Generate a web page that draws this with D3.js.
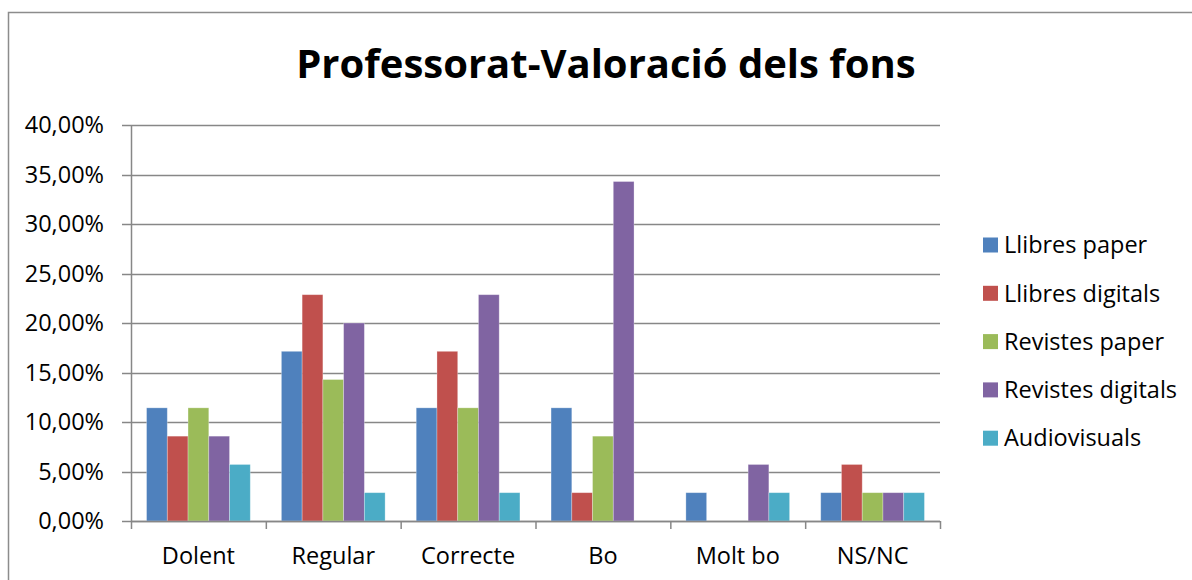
<!DOCTYPE html>
<html>
<head>
<meta charset="utf-8">
<script src="https://cdn.jsdelivr.net/npm/d3@7"></script>
<style>
  body { margin: 0; background: #fff; }
  text { font-family: "Open Sans", sans-serif; fill: #000; }
</style>
</head>
<body>
<svg id="chart" width="1192" height="580"></svg>
<script>
// data (percent)
const categories = ['Dolent', 'Regular', 'Correcte', 'Bo', 'Molt bo', 'NS/NC'];
const seriesNames = ['Llibres paper', 'Llibres digitals', 'Revistes paper', 'Revistes digitals', 'Audiovisuals'];
const llibresPaper = [11.43, 17.14, 11.43, 11.43, 2.86, 2.86];
const llibresDigitals = [8.57, 22.86, 17.14, 2.86, 0, 5.71];
const revistesPaper = [11.43, 14.29, 11.43, 8.57, 0, 2.86];
const revistesDigitals = [8.57, 20.00, 22.86, 34.29, 5.71, 2.86];
const audiovisuals = [5.71, 2.86, 2.86, 0, 2.86, 2.86];
const yTicks = [0, 5, 10, 15, 20, 25, 30, 35, 40];
const colors = ['#4F81BD', '#C0504D', '#9BBB59', '#8064A2', '#4BACC6'];

const seriesValues = [llibresPaper, llibresDigitals, revistesPaper, revistesDigitals, audiovisuals];

const svg = d3.select('#chart');
const margin = { top: 125, left: 131, right: 252, bottom: 59 };
const width = 1192 - margin.left - margin.right;
const height = 580 - margin.top - margin.bottom;
const fontSize = 23.5;

// outer chart border
svg.append('rect')
  .attr('x', 8.5).attr('y', 12.5)
  .attr('width', 1200).attr('height', 600)
  .attr('fill', 'none').attr('stroke', '#8c8c8c').attr('stroke-width', 1.5);

svg.append('text')
  .attr('x', 606).attr('y', 78)
  .attr('text-anchor', 'middle')
  .attr('font-size', 40).attr('font-weight', 'bold')
  .text('Professorat-Valoració dels fons');

const g = svg.append('g').attr('transform', `translate(${margin.left},${margin.top})`);

const x0 = d3.scaleBand().domain(categories).range([0, width]).paddingInner(0).paddingOuter(0);
// Excel gap width 150% -> 5 bars + 1.5 bar gap
const x1 = d3.scaleBand().domain(d3.range(seriesNames.length))
  .range([x0.bandwidth() * 0.75 / 6.5, x0.bandwidth() * (1 - 0.75 / 6.5)]);
const y = d3.scaleLinear().domain([0, 40]).range([height, 0]);

// gridlines
g.append('g')
  .selectAll('line')
  .data(yTicks)
  .join('line')
  .attr('x1', -9).attr('x2', width)
  .attr('y1', d => Math.round(y(d)) + 0.5).attr('y2', d => Math.round(y(d)) + 0.5)
  .attr('stroke', '#878787').attr('stroke-width', 1.5);

// y axis labels
const yAxis = d3.axisLeft(y).tickValues(yTicks).tickSize(0).tickPadding(27)
  .tickFormat(d => d3.format('.2f')(d).replace('.', ',') + '%');
g.append('g').call(yAxis)
  .call(s => s.select('.domain').remove())
  .selectAll('text').attr('font-size', fontSize).attr('font-family', '"Open Sans", sans-serif').attr('fill', '#000');

// bars
categories.forEach((cat, ci) => {
  g.append('g')
    .attr('transform', `translate(${x0(cat)},0)`)
    .selectAll('rect')
    .data(seriesValues.map((vals, si) => ({ si, v: vals[ci] })))
    .join('rect')
    .attr('x', d => x1(d.si))
    .attr('width', x1.bandwidth())
    .attr('y', d => y(d.v))
    .attr('height', d => height - y(d.v))
    .attr('fill', d => colors[d.si])
    .attr('stroke', d => d.v > 0 ? 'rgba(255,255,255,0.35)' : 'none')
    .attr('stroke-width', 0.8);
});

// axes lines
g.append('line')
  .attr('x1', 0.5).attr('x2', 0.5).attr('y1', 0).attr('y2', height)
  .attr('stroke', '#878787').attr('stroke-width', 1.5);
g.append('line')
  .attr('x1', 0).attr('x2', width).attr('y1', height + 0.5).attr('y2', height + 0.5)
  .attr('stroke', '#878787').attr('stroke-width', 1.5);

const xAxis = d3.axisBottom(x0).tickSize(0).tickPadding(26);
g.append('g').attr('transform', `translate(0,${height})`).call(xAxis)
  .call(s => s.select('.domain').remove())
  .selectAll('text').attr('font-size', fontSize).attr('font-family', '"Open Sans", sans-serif').attr('fill', '#000');

// category tick marks
g.append('g').selectAll('line')
  .data(d3.range(categories.length + 1))
  .join('line')
  .attr('x1', i => i * x0.bandwidth() + 0.5).attr('x2', i => i * x0.bandwidth() + 0.5)
  .attr('y1', height).attr('y2', height + 8)
  .attr('stroke', '#878787').attr('stroke-width', 1.5);

// legend
const legend = svg.append('g').attr('transform', 'translate(983,245)');
const item = legend.selectAll('g').data(seriesNames).join('g')
  .attr('transform', (d, i) => `translate(0,${i * 48.3})`);
item.append('rect')
  .attr('x', 0).attr('y', -7.5).attr('width', 15).attr('height', 15)
  .attr('fill', (d, i) => colors[i]);
item.append('text')
  .attr('x', 21).attr('y', 0).attr('dy', '0.35em')
  .attr('font-size', fontSize)
  .text(d => d);
</script>
</body>
</html>
